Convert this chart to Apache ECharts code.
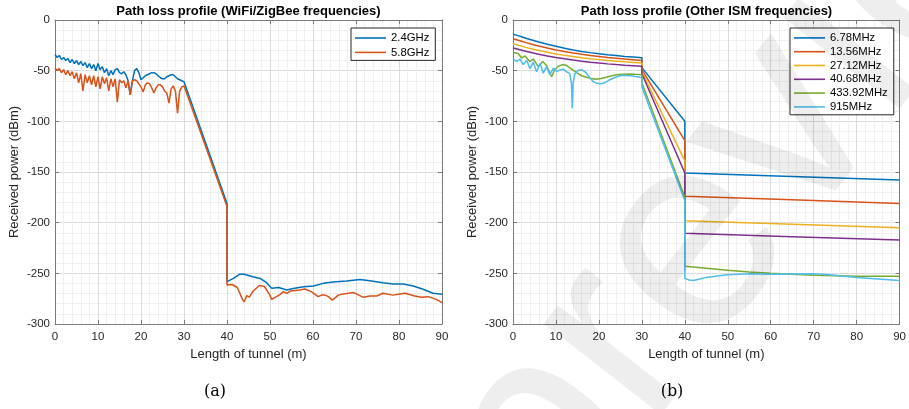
<!DOCTYPE html>
<html>
<head>
<meta charset="utf-8">
<script src="https://cdn.jsdelivr.net/npm/echarts@6/dist/echarts.min.js"></script>
<style>html,body{margin:0;padding:0;background:#fff}#c{width:909px;height:409px}</style>
</head>
<body>
<div id="c"></div>
<script>
// ---------- data: panel (a) WiFi / ZigBee ----------
const wifiNearX = [0,0.5,1,1.5,2,2.5,3,3.5,4,4.5,5,5.5,6,6.5,7,7.5,8,8.5,9,9.5,10,10.5,11,11.5,12,12.5,13,13.5,14,14.5,15,15.5,16,16.5,17,17.5,18,18.5,19,19.5,20,20.5,21,21.5,22,22.5,23,23.5,24,24.5,25,25.5,26,26.5,27,27.5,28,28.5,29,29.5,30];
const ghz24Near = [-34,-37,-35,-39,-37,-40,-38,-42,-39,-43,
  -40,-44,-41,-45,-42,-47,-43,-48,-44,-50,
  -43,-49,-46,-52,-48,-55,-50,-54,-49,-48,
  -52,-53,-51,-54,-60,-74,-60,-50,-48,-52,
  -59,-57,-55,-54,-53,-52,-52,-53,-55,-57,
  -58,-58,-56,-55,-54,-54,-56,-58,-59,-60,
  -61];
const ghz58Near = [-47,-50,-48,-52,-49,-54,-50,-55,-51,-58,
  -52,-62,-53,-70,-54,-62,-55,-64,-55,-66,
  -56,-68,-56,-63,-57,-70,-58,-66,-58,-81,
  -59,-62,-60,-67,-60,-74,-60,-59,-60,-63,
  -66,-71,-64,-62,-63,-67,-72,-67,-64,-64,
  -66,-70,-72,-82,-68,-65,-70,-92,-70,-66,
  -65];
const ghz24WallX = [40];
const ghz24WallY = [-181];
const ghz58WallX = [40];
const ghz58WallY = [-184];
const ghz24FarX = [40,41.5,42.9,44,46,47.7,49.2,50.4,52,53.9,55.4,57.8,60.1,62.4,64.7,67.8,70.9,73.2,76.3,78.6,81,83.3,85.6,87.9,90];
const ghz24FarY = [-258.2,-255,-251,-251,-253.3,-255,-259.2,-264.8,-264,-266.5,-265,-263.2,-262.5,-259.9,-258.6,-257.6,-256,-257.3,-259.2,-260.5,-260.5,-262.5,-265.7,-269.7,-270.7];
const ghz58FarX = [40,41.2,42.4,43.6,44,44.6,45.2,46,47.5,48.7,49.9,50.4,51.2,51.6,52.3,53.1,53.9,54.7,56.9,58.1,59.6,61.2,62,62.8,63.6,64.5,65.9,67,69.5,71.7,73.2,74.8,76.3,78.6,80.2,81.4,83.7,85.2,86.8,88.7,90];
const ghz58FarY = [-261.5,-261,-264,-275.7,-278,-272,-273.5,-268,-262,-263,-271,-275.7,-273.7,-275,-271,-268,-269.7,-267.5,-266.5,-265.5,-268,-273,-271.5,-271.5,-273,-276.4,-271.5,-270.4,-269,-273.7,-272.4,-272.4,-269.7,-271.5,-270.4,-269.7,-272.4,-273.7,-273,-275.7,-279];

// ---------- data: panel (b) other ISM ----------
const ismSmoothX = [0,1,2,3,4,5,6,8,10,12,14,16,18,20,22,24,26,28,30,30,40,40,65,90];
const mhz678Y  = [-14,-15.2,-16.6,-18,-19.3,-20.5,-21.7,-23.9,-26,-27.9,-29.5,-31,-32.2,-33.3,-34.3,-35.1,-35.9,-36.6,-37.3,-47,-100,-151,-154.5,-158];
const mhz1356Y = [-18.5,-19.7,-21,-22.3,-23.5,-24.6,-25.7,-27.7,-29.5,-31.1,-32.5,-33.8,-35,-36,-37,-37.8,-38.6,-39.3,-40,-49,-119,-174,-177.5,-181];
const mhz2712Y = [-23.5,-24.6,-25.8,-27,-28.1,-29.1,-30.1,-31.9,-33.5,-34.9,-36.1,-37.2,-38.2,-39.1,-39.9,-40.6,-41.3,-41.9,-42.5,-51,-139,-198,-201.5,-205];
const mhz4068Y = [-27.7,-28.7,-29.8,-30.9,-31.9,-32.9,-33.8,-35.5,-37,-38.3,-39.5,-40.6,-41.6,-42.5,-43.3,-44,-44.6,-45.1,-45.6,-53,-151,-210.5,-213.8,-217];
const mhz43392X = [0,1.2,2,2.8,3.9,4.7,5.9,6.9,7.8,9,9.6,10.4,11.5,12.5,13.5,15,16,17.1,18,19.2,20.5,21.7,23,24.1,25.5,27.2,28.5,30,30,40,40,45,50,55,60,65,70,75,80,85,90];
const mhz43392Y = [-32,-33,-37.5,-35.5,-41,-38.5,-46,-41,-45,-56,-50,-46,-44,-45,-48,-52.5,-55,-56.5,-57.5,-58.5,-57.8,-56.5,-55,-54,-53.5,-53.2,-53.6,-54,-62,-175,-243,-245,-247,-248.7,-250,-251,-251.8,-252.4,-252.8,-253,-253];
const mhz915X = [0,0.8,1.6,2.4,3.2,3.95,4.7,5.5,6.3,7.05,7.8,8.6,9.4,10.2,11,11.7,12.4,13.2,13.6,13.8,14.0,14.4,15.2,16,17,17.9,18.6,19.5,20.5,21.3,22.3,23.3,24.5,25.5,27,28.5,29.5,30,30,40,40,41,42,43,45,48,50,55,60,65,70,72,75,80,85,90];
const mhz915Y = [-38,-41,-38.5,-44,-40,-48,-41.5,-51,-43,-52.5,-46,-54,-47.5,-51,-49,-48.5,-51,-53,-62,-87,-62,-53,-49.5,-49,-52,-57,-60.5,-62.5,-63,-62,-59.5,-57.5,-55.5,-54.5,-54.8,-55.8,-56.5,-57,-66,-178,-255,-256.5,-257,-256,-254,-252.5,-251.5,-250.5,-250.8,-250.6,-250.5,-250.8,-252,-254,-255.5,-257];

// ---------- axis ticks / labels ----------
const xTicks = {min: 0, max: 90, interval: 10};
const yTicks = {min: -300, max: 0, interval: 50};
const titles = ['Path loss profile (WiFi/ZigBee frequencies)', 'Path loss profile (Other ISM frequencies)'];
const subLabels = ['(a)', '(b)'];
const xName = 'Length of tunnel (m)';
const yName = 'Received power (dBm)';
const namesA = ['2.4GHz', '5.8GHz'];
const namesB = ['6.78MHz', '13.56MHz', '27.12MHz', '40.68MHz', '433.92MHz', '915MHz'];
const colors = ['#0072BD', '#D95319', '#EDB120', '#7E2F8E', '#77AC30', '#4DBEEE'];

// ---------- helpers ----------
function zip(xs, ys) { return xs.map((x, i) => [x, ys[i]]); }
const FONT = '"Liberation Sans", Arial, sans-serif';
const boxColor = '#7a7a7a';

function mainX(g) {
  return {
    type: 'value', gridIndex: g, position: 'bottom',
    min: xTicks.min, max: xTicks.max, interval: xTicks.interval,
    name: xName, nameLocation: 'middle', nameGap: 23,
    nameTextStyle: {color: '#262626', fontSize: 13, fontFamily: FONT},
    axisLine: {show: true, onZero: false, lineStyle: {color: boxColor, width: 1}},
    axisTick: {show: true, inside: true, length: 4, lineStyle: {color: boxColor}},
    axisLabel: {color: '#262626', fontSize: 11.5, fontFamily: FONT, margin: 7},
    splitLine: {show: true, showMinLine: false, showMaxLine: false, lineStyle: {color: '#dadada', width: 1}},
    minorTick: {show: false, splitNumber: 5},
    minorSplitLine: {show: true, lineStyle: {color: '#efefef', width: 1}}
  };
}
function topX(g) {
  return {
    type: 'value', gridIndex: g, position: 'top',
    min: xTicks.min, max: xTicks.max, interval: xTicks.interval,
    axisLine: {show: true, onZero: false, lineStyle: {color: boxColor, width: 1}},
    axisTick: {show: true, inside: true, length: 4, lineStyle: {color: boxColor}},
    axisLabel: {show: false}, splitLine: {show: false}
  };
}
function mainY(g) {
  return {
    type: 'value', gridIndex: g, position: 'left',
    min: yTicks.min, max: yTicks.max, interval: yTicks.interval,
    name: yName, nameLocation: 'middle', nameGap: 34, nameRotate: 90,
    nameTextStyle: {color: '#262626', fontSize: 13, fontFamily: FONT},
    axisLine: {show: true, onZero: false, lineStyle: {color: boxColor, width: 1}},
    axisTick: {show: true, inside: true, length: 4, lineStyle: {color: boxColor}},
    axisLabel: {color: '#262626', fontSize: 11.5, fontFamily: FONT, margin: 5},
    splitLine: {show: true, showMinLine: false, showMaxLine: false, lineStyle: {color: '#dadada', width: 1}},
    minorTick: {show: false, splitNumber: 5},
    minorSplitLine: {show: true, lineStyle: {color: '#efefef', width: 1}}
  };
}
function rightY(g) {
  return {
    type: 'value', gridIndex: g, position: 'right',
    min: yTicks.min, max: yTicks.max, interval: yTicks.interval,
    axisLine: {show: true, onZero: false, lineStyle: {color: boxColor, width: 1}},
    axisTick: {show: true, inside: true, length: 4, lineStyle: {color: boxColor}},
    axisLabel: {show: false}, splitLine: {show: false}
  };
}
function line(name, data, color, xi, yi) {
  return {
    type: 'line', name: name, data: data, xAxisIndex: xi, yAxisIndex: yi,
    showSymbol: false, symbol: 'none', smooth: false, animation: false,
    lineStyle: {color: color, width: 1.5}, itemStyle: {color: color},
    emphasis: {disabled: true}, z: 3
  };
}
function legend(names, left, top, rowH, gap) {
  return {
    data: names, left: left, top: top, orient: 'vertical',
    icon: 'rect', itemWidth: 31, itemHeight: 1.6, itemGap: gap,
    padding: [3, 6, 1, 4],
    backgroundColor: '#fff', borderColor: '#262626', borderWidth: 1,
    textStyle: {color: '#000', fontSize: 11.3, fontFamily: FONT, lineHeight: rowH},
    selectedMode: false
  };
}

const seriesA = [
  line(namesA[0], zip(wifiNearX, ghz24Near).concat(zip(ghz24WallX, ghz24WallY), zip(ghz24FarX, ghz24FarY)), colors[0], 0, 0),
  line(namesA[1], zip(wifiNearX, ghz58Near).concat(zip(ghz58WallX, ghz58WallY), zip(ghz58FarX, ghz58FarY)), colors[1], 0, 0)
];
const seriesB = [
  line(namesB[0], zip(ismSmoothX, mhz678Y), colors[0], 2, 2),
  line(namesB[1], zip(ismSmoothX, mhz1356Y), colors[1], 2, 2),
  line(namesB[2], zip(ismSmoothX, mhz2712Y), colors[2], 2, 2),
  line(namesB[3], zip(ismSmoothX, mhz4068Y), colors[3], 2, 2),
  line(namesB[4], zip(mhz43392X, mhz43392Y), colors[4], 2, 2),
  line(namesB[5], zip(mhz915X, mhz915Y), colors[5], 2, 2)
];

const option = {
  animation: false,
  backgroundColor: '#fff',
  grid: [
    {left: 55, top: 20, width: 387, height: 304, show: true, backgroundColor: '#fff', borderWidth: 0},
    {left: 513, top: 20, width: 387, height: 304, show: true, backgroundColor: '#fff', borderWidth: 0}
  ],
  xAxis: [mainX(0), topX(0), mainX(1), topX(1)],
  yAxis: [mainY(0), rightY(0), mainY(1), rightY(1)],
  legend: [legend(namesA, 351, 28, 14, 0.4), legend(namesB, 790, 28, 13.8, 0)],
  series: seriesA.concat(seriesB),
  graphic: [
    {type: 'text', x: 248.5, y: 11, silent: true, style: {text: titles[0], font: 'bold 13px ' + FONT, fill: '#000', align: 'center', verticalAlign: 'middle'}},
    {type: 'text', x: 706.5, y: 11, silent: true, style: {text: titles[1], font: 'bold 13px ' + FONT, fill: '#000', align: 'center', verticalAlign: 'middle'}},
    {type: 'text', x: 215, y: 392, silent: true, style: {text: subLabels[0], font: '16px "DejaVu Serif", "Liberation Serif", serif', fill: '#000', align: 'center', verticalAlign: 'middle'}},
    {type: 'text', x: 672, y: 392, silent: true, style: {text: subLabels[1], font: '16px "DejaVu Serif", "Liberation Serif", serif', fill: '#000', align: 'center', verticalAlign: 'middle'}},
    {type: 'text', x: 492, y: 505, rotation: 52 * Math.PI / 180, silent: true, z: 100,
     style: {text: 'preview', font: '280px ' + FONT, fill: 'rgba(0,0,0,0.065)', align: 'left', verticalAlign: 'middle'}}
  ]
};

const chart = echarts.init(document.getElementById('c'), null, {renderer: 'canvas', width: 909, height: 409});
chart.setOption(option);
</script>
</body>
</html>
